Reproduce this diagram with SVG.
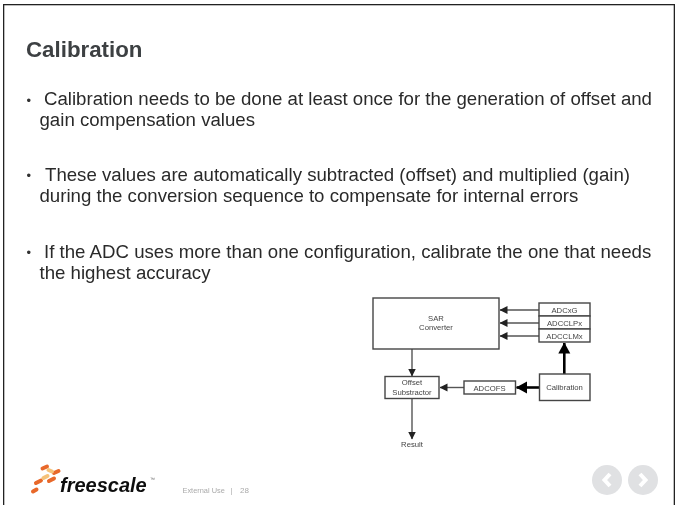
<svg xmlns="http://www.w3.org/2000/svg" width="677" height="505" viewBox="0 0 677 505">
<style>
text{font-family:"Liberation Sans",Arial,sans-serif}
.body{font-size:18.65px;fill:#2a2a2a}
.bul{font-size:13px;fill:#333}
.box{fill:#fff;stroke:#444;stroke-width:1.4}
.lbl{font-size:7.7px;fill:#444;text-anchor:middle}
.thin{stroke:#555;stroke-width:1.4;fill:none}
.thick{stroke:#000;stroke-width:2.6;fill:none}
.mark{stroke-width:4;stroke-linecap:round;fill:none}
</style>
<defs>
<filter id="soft" x="0" y="0" width="1" height="1"><feGaussianBlur stdDeviation="0.4"/></filter>
<marker id="a" markerUnits="userSpaceOnUse" markerWidth="8" markerHeight="9" refX="7.500" refY="4" orient="auto"><path d="M0 0L8 4L0 8z" fill="#222"/></marker>
<marker id="b" markerUnits="userSpaceOnUse" markerWidth="11" markerHeight="13" refX="10.500" refY="6" orient="auto"><path d="M0 0L11 6L0 12z" fill="#000"/></marker>
</defs>
<rect width="677" height="505" fill="#fff"/>
<g filter="url(#soft)">
<rect x="3.500" y="4.500" width="671" height="510" fill="#fff" stroke="#222" stroke-width="1.6"/>
<text x="26" y="57" font-size="22.3" font-weight="bold" fill="#3c4043">Calibration</text>
<g id="bullets">
<text class="bul" x="26.500" y="105">•</text>
<text class="body" x="44" y="105">Calibration needs to be done at least once for the generation of offset and</text>
<text class="body" x="39.500" y="126">gain compensation values</text>
<text class="bul" x="26.500" y="180">•</text>
<text class="body" x="45" y="181">These values are automatically subtracted (offset) and multiplied (gain)</text>
<text class="body" x="39.500" y="202">during the conversion sequence to compensate for internal errors</text>
<text class="bul" x="26.500" y="256.600">•</text>
<text class="body" x="44" y="258">If the ADC uses more than one configuration, calibrate the one that needs</text>
<text class="body" x="39.500" y="279">the highest accuracy</text>
</g>
<g id="connectors">
<path class="thin" marker-end="url(#a)" d="M539 310H500"/>
<path class="thin" marker-end="url(#a)" d="M539 323H500"/>
<path class="thin" marker-end="url(#a)" d="M539 336H500"/>
<path class="thin" marker-end="url(#a)" d="M412 349V376"/>
<path class="thin" marker-end="url(#a)" d="M464 387.500H440"/>
<path class="thin" marker-end="url(#a)" d="M412 398V439"/>
<path class="thick" marker-end="url(#b)" d="M539 387.500H516.500"/>
<path class="thick" marker-end="url(#b)" d="M564.300 374V343"/>
</g>
<g id="sar"><rect class="box" x="373" y="298" width="126" height="51"/><text class="lbl" x="436" y="321">SAR</text><text class="lbl" x="436" y="330">Converter</text></g>
<g id="adcxg"><rect class="box" x="539" y="303" width="51" height="13"/><text class="lbl" x="564.500" y="312.500">ADCxG</text></g>
<g id="adcclpx"><rect class="box" x="539" y="316" width="51" height="13"/><text class="lbl" x="564.500" y="325.500">ADCCLPx</text></g>
<g id="adcclmx"><rect class="box" x="539" y="329" width="51" height="13"/><text class="lbl" x="564.500" y="338.500">ADCCLMx</text></g>
<g id="calibration"><rect class="box" x="539.500" y="374" width="50.500" height="26.500"/><text class="lbl" x="564.500" y="390">Calibration</text></g>
<g id="adcofs"><rect class="box" x="464" y="381" width="51.500" height="13"/><text class="lbl" x="489.500" y="390.500">ADCOFS</text></g>
<g id="offset"><rect class="box" x="385" y="376.500" width="54" height="22"/><text class="lbl" x="412" y="385">Offset</text><text class="lbl" x="412" y="394.500">Substractor</text></g>
<text id="result" class="lbl" x="412" y="447">Result</text>
<g id="logo">
<path class="mark" stroke="#e8682a" d="M42.500 468.500L47 466.500M54 473L58.500 471M36 483L41 480.500M49 481L54 478.500M33 491.500L36.500 489.500"/>
<path class="mark" stroke="#f5c27a" d="M48.500 470L52 471.500M43.500 478L47.500 476"/>
<text x="60" y="492" font-size="20" font-weight="bold" font-style="italic" fill="#111">freescale</text>
<text x="150" y="481" font-size="5" fill="#666">™</text>
</g>
<text x="182.500" y="493" font-size="7.400" fill="#aaa">External Use</text>
<text x="230.500" y="493" font-size="7.400" fill="#aaa">|</text>
<text x="240" y="493" font-size="8" fill="#aaa">28</text>
<g id="nav">
<circle cx="607" cy="480" r="15" fill="#e0e1e3"/><path d="M610 474l-5.500 6 5.500 6" fill="none" stroke="#fff" stroke-width="4"/>
<circle cx="643" cy="480" r="15" fill="#e0e1e3"/><path d="M640 474l5.500 6-5.500 6" fill="none" stroke="#fff" stroke-width="4"/>
</g>
</g>
</svg>
